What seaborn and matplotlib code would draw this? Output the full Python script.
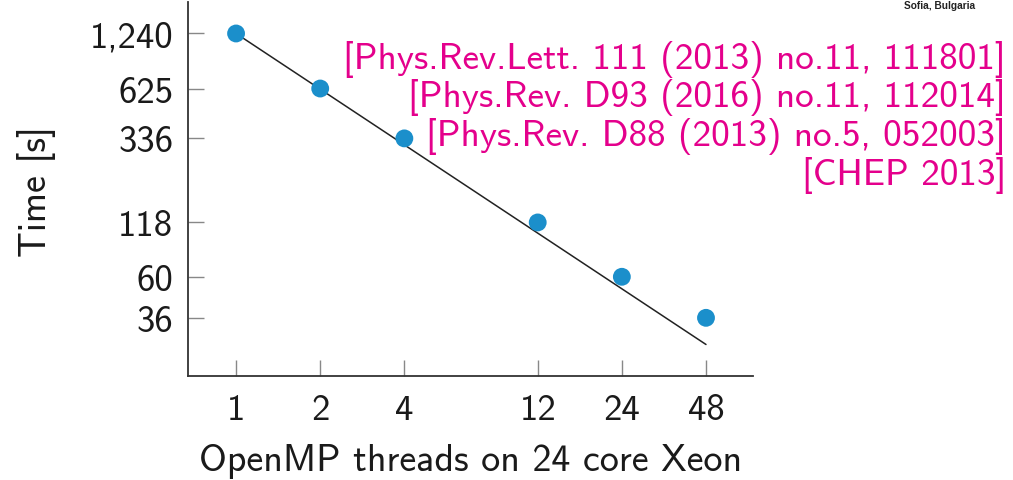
import matplotlib
matplotlib.use("Agg")
import matplotlib.pyplot as plt
import seaborn as sns
import pandas as pd

# ---- data ----
threads = [1, 2, 4, 12, 24, 48]
times = [1240, 625, 336, 118, 60, 36]
x_tick_labels = ["1", "2", "4", "12", "24", "48"]
y_tick_values = [36, 60, 118, 336, 625, 1240]
y_tick_labels = ["36", "60", "118", "336", "625", "1,240"]
ideal_threads = [threads[0], threads[-1]]
ideal_times = [times[0] / n for n in ideal_threads]  # ideal scaling T1/N
references = [
    "[Phys.Rev.Lett. 111 (2013) no.11, 111801]",
    "[Phys.Rev. D93 (2016) no.11, 112014]",
    "[Phys.Rev. D88 (2013) no.5, 052003]",
    "[CHEP 2013]",
]
corner_note = "Sofia, Bulgaria"
x_label = "OpenMP threads on 24 core Xeon"
y_label = "Time [s]"

df = pd.DataFrame({"threads": threads, "time": times})
df_ideal = pd.DataFrame({"threads": ideal_threads, "time": ideal_times})

sns.set_style("white")
plt.rcParams["font.family"] = ["cmss10", "DejaVu Sans"]
plt.rcParams["axes.unicode_minus"] = False

W, H = 1013, 481
fig = plt.figure(figsize=(W / 100, H / 100), dpi=100)
ax = fig.add_axes([188 / W, 1 - 377 / H, (753 - 188) / W, (377 - 3) / H])

sns.lineplot(data=df_ideal, x="threads", y="time", ax=ax, color="#222222",
             linewidth=1.1, legend=False)
sns.scatterplot(data=df, x="threads", y="time", ax=ax, color="#1b8fcb",
                s=165, edgecolor="none", zorder=5, legend=False)

ax.set_xscale("log")
ax.set_yscale("log")
ax.set_xlim(0.673, 70.7)
ax.set_ylim(17.45, 1835)

ax.xaxis.set_minor_locator(matplotlib.ticker.NullLocator())
ax.set_xticks(threads)
ax.set_xticklabels(x_tick_labels)
ax.yaxis.set_minor_locator(matplotlib.ticker.NullLocator())
ax.set_yticks(y_tick_values)
ax.set_yticklabels(y_tick_labels)

ax.tick_params(axis="both", which="major", direction="in", length=11.5,
               width=1.0, color="#888888", labelsize=26.5, labelcolor="#1a1a1a",
               bottom=True, left=True, top=False, right=False)
ax.tick_params(axis="y", pad=10.5)
ax.tick_params(axis="x", pad=12)

for side in ["top", "right"]:
    ax.spines[side].set_visible(False)
for side in ["left", "bottom"]:
    ax.spines[side].set_color("#333333")
    ax.spines[side].set_linewidth(1.3)

ax.set_xlabel(x_label, fontsize=27.4, color="#1a1a1a")
ax.set_ylabel(y_label, fontsize=27.4, color="#1a1a1a")
ax.xaxis.label.set_va("center")
ax.yaxis.label.set_va("center")
ax.xaxis.set_label_coords(0.5, (377 - 462) / 374)
ax.yaxis.set_label_coords((37 - 188) / 565, (377 - 192) / 374)

for i, ref in enumerate(references):
    fig.text(1006 / W, 1 - (59 + 39.0 * i) / H, ref, ha="right", va="center",
             fontsize=26.8, color="#e4008c")

fig.text(940 / W, 1 - 6 / H, corner_note, ha="center", va="center",
         fontsize=7.3, fontweight="bold", color="#222222",
         family=["Liberation Sans Narrow", "Liberation Sans", "DejaVu Sans"])

fig.savefig("out.png", dpi=100)
